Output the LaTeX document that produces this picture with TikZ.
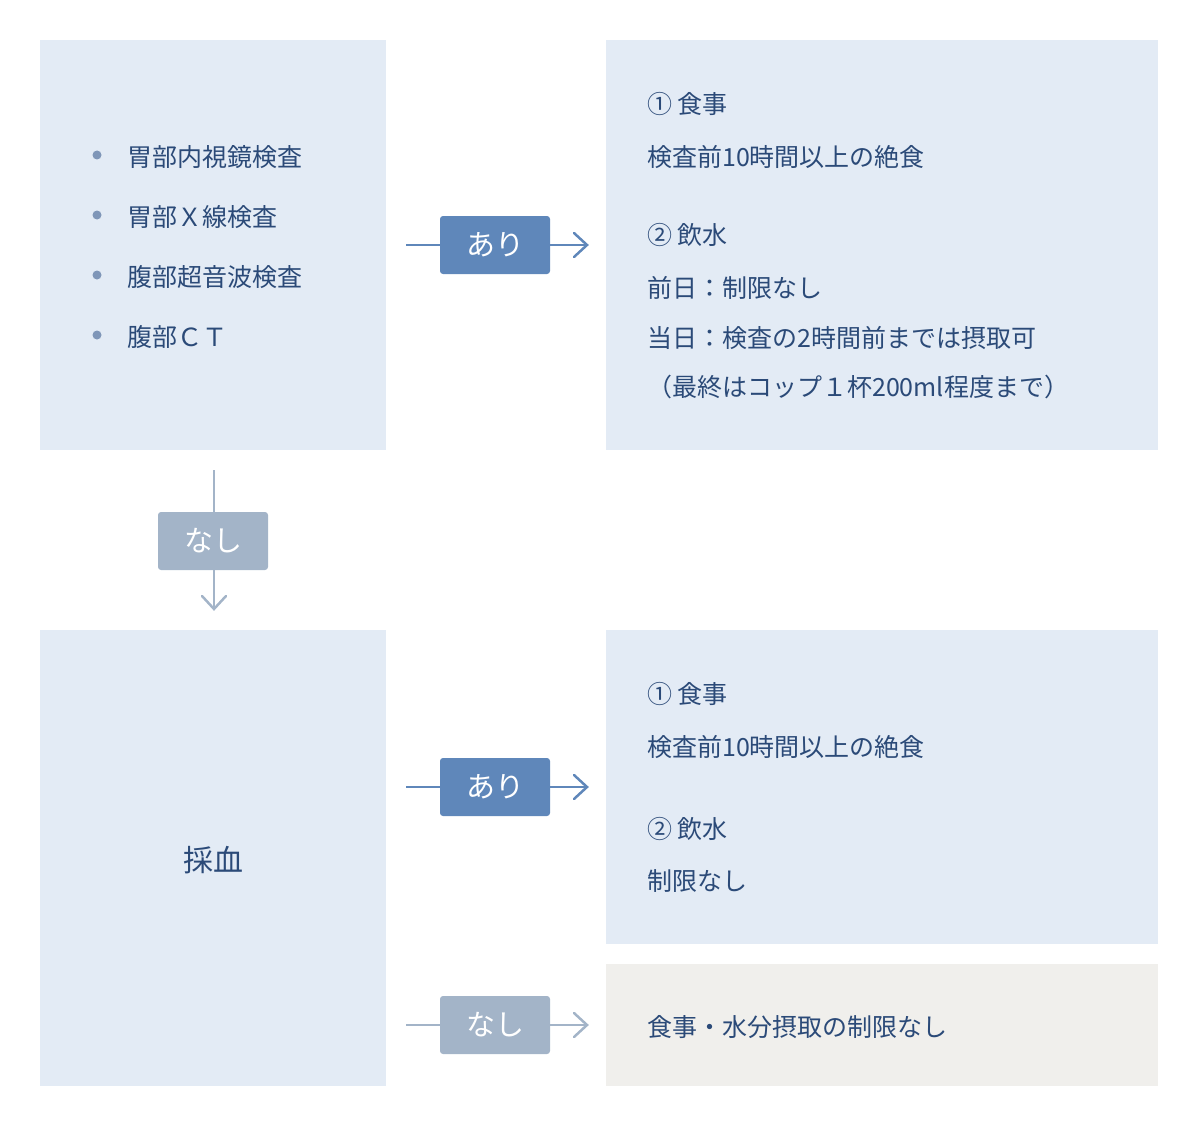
\documentclass[tikz,border=0pt]{standalone}
\usepackage{fontspec}
\setmainfont{Noto Sans CJK JP}
\begin{document}
\begin{tikzpicture}[x=1pt,y=-1pt,
  txt/.style={anchor=west,inner sep=0pt,text=tc,font=\fontsize{25}{30}\selectfont},
  lbox/.style={fill=boxb,draw=none},
  tag/.style={rounded corners=3pt,minimum width=110pt,minimum height=58pt,text=white,inner sep=0pt,font=\fontsize{29}{30}\selectfont},
  conn/.style={line width=2.5pt},
  tip/.style={line width=2.5pt,line cap=round,line join=miter}]
\definecolor{boxb}{HTML}{E3EBF5}
\definecolor{boxg}{HTML}{F0EFEC}
\definecolor{tc}{HTML}{2B4A78}
\definecolor{blu}{HTML}{5F87BA}
\definecolor{gra}{HTML}{A3B4C8}
\definecolor{bul}{HTML}{7F96B8}
\useasboundingbox (0,0) rectangle (1198,1126);
\fill[boxb] (40,40) rectangle (386,450);
\fill[boxb] (606,40) rectangle (1158,450);
\fill[boxb] (40,630) rectangle (386,1086);
\fill[boxb] (606,630) rectangle (1158,944);
\fill[boxg] (606,964) rectangle (1158,1086);
% left list
\foreach \y/\t [count=\i] in {157/胃部内視鏡検査,217/胃部Ｘ線検査,277/腹部超音波検査,337/腹部ＣＴ}{
  \fill[bul] (97,\y-2) circle (4.5);
  \node[txt] (l\i) at (127,\y) {\t};
}
\node[txt] at (647,104) {① 食事};
\node[txt] at (647,157) {検査前10時間以上の絶食};
\node[txt] at (647,235) {② 飲水};
\node[txt] at (647,288) {前日：制限なし};
\node[txt] at (647,338) {当日：検査の2時間前までは摂取可};
\node[txt] at (647,387) {（最終はコップ１杯200ml程度まで）};
\node[txt,anchor=center,font=\fontsize{30}{32}\selectfont] at (213,860) {採血};
\node[txt] at (647,694) {① 食事};
\node[txt] at (647,747) {検査前10時間以上の絶食};
\node[txt] at (647,829) {② 飲水};
\node[txt] at (647,881) {制限なし};
\node[txt] at (647,1027) {食事・水分摂取の制限なし};
% connectors
\coordinate (s1) at (406,245); \coordinate (e1) at (587,245);
\draw[conn,blu] (s1) -- (e1);
\draw[tip,blu] (574,233) -- (e1) -- (574,257);
\node[tag,fill=blu] (t1) at (495,245) {あり};
\coordinate (s2) at (214,470); \coordinate (e2) at (214,609);
\draw[conn,gra] (s2) -- (e2);
\draw[tip,gra] (202,596) -- (e2) -- (226,596);
\node[tag,fill=gra] (t2) at (213,541) {なし};
\coordinate (s3) at (406,787); \coordinate (e3) at (587,787);
\draw[conn,blu] (s3) -- (e3);
\draw[tip,blu] (574,775) -- (e3) -- (574,799);
\node[tag,fill=blu] (t3) at (495,787) {あり};
\coordinate (s4) at (406,1025); \coordinate (e4) at (587,1025);
\draw[conn,gra] (s4) -- (e4);
\draw[tip,gra] (574,1013) -- (e4) -- (574,1037);
\node[tag,fill=gra] (t4) at (495,1025) {なし};
\end{tikzpicture}
\end{document}
